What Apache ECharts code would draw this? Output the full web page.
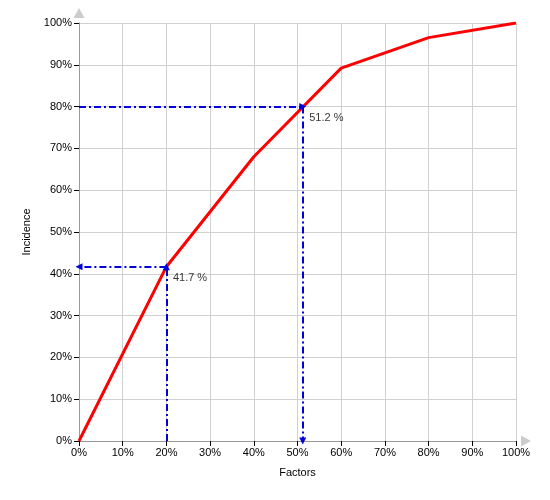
<!DOCTYPE html>
<html>
<head>
<meta charset="utf-8">
<script src="https://cdn.jsdelivr.net/npm/echarts@6/dist/echarts.min.js"></script>
<style>html,body{margin:0;padding:0;background:#fff}#c{width:550px;height:500px}</style>
</head>
<body>
<div id="c"></div>
<script>
// Curve: Factors (%) vs Incidence (%)
const factors = [0, 20, 40, 60, 80, 100];
const incidence = [0, 41.7, 68, 89.2, 96.5, 100];
// Annotated points [factor %, incidence %]
const markA = [20, 41.7];
const markB = [51.2, 80];
const xTickLabels = ['0%','10%','20%','30%','40%','50%','60%','70%','80%','90%','100%'];
const yTickLabels = ['0%','10%','20%','30%','40%','50%','60%','70%','80%','90%','100%'];

const chart = echarts.init(document.getElementById('c'), null, {renderer: 'canvas'});
const font = 'Liberation Sans, Arial, sans-serif';
const lineData = factors.map((f, i) => [f, incidence[i]]);
const dashStyle = {color: '#0000dd', width: 2, type: [7, 3, 2, 3]};

function baseAxis(labels) {
  return {
    type: 'value', min: 0, max: 100, interval: 10,
    axisLabel: {formatter: v => labels[Math.round(v / 10)], color: '#000', fontFamily: font, fontSize: 11},
    axisTick: {show: true, length: 5, lineStyle: {color: '#000', width: 1}},
    splitLine: {show: true, lineStyle: {color: '#d0d0d0', width: 1}},
    axisLine: {show: true, lineStyle: {color: '#999', width: 1}},
    z: 2
  };
}
function arrowAxis(extra) {
  return Object.assign({
    type: 'value', min: 0, max: 100, interval: 10,
    axisLabel: {show: false}, axisTick: {show: false}, splitLine: {show: false},
    axisLine: {show: true, symbol: ['none', 'triangle'], symbolSize: [11, 10], symbolOffset: [0, 10],
      lineStyle: {color: '#cccccc', width: 1}},
    z: 1
  }, extra);
}

const xMain = Object.assign(baseAxis(xTickLabels), {
  name: 'Factors', nameLocation: 'middle', nameGap: 26,
  nameTextStyle: {color: '#000', fontFamily: font, fontSize: 11},
  axisLabel: {formatter: v => xTickLabels[Math.round(v / 10)], color: '#000', fontFamily: font, fontSize: 11, margin: 6}
});
const yMain = Object.assign(baseAxis(yTickLabels), {
  name: 'Incidence', nameLocation: 'middle', nameGap: 46,
  nameTextStyle: {color: '#000', fontFamily: font, fontSize: 11},
  axisLabel: {formatter: v => yTickLabels[Math.round(v / 10)], color: '#000', fontFamily: font, fontSize: 11, margin: 7}
});

chart.setOption({
  animation: false,
  backgroundColor: '#fff',
  grid: {left: 79, right: 34, top: 23, bottom: 59, containLabel: false},
  xAxis: [xMain, arrowAxis({position: 'bottom'})],
  yAxis: [yMain, arrowAxis({position: 'left'})],
  series: [
    {
      type: 'line', data: lineData, showSymbol: false, symbol: 'none',
      lineStyle: {color: '#ff0000', width: 3}, z: 3,
      markLine: {
        silent: true, symbol: ['none', 'triangle'], symbolSize: [7, 7],
        lineStyle: dashStyle, label: {show: false}, z: 4,
        data: [
          [{coord: [markA[0], 0]}, {coord: [markA[0], markA[1]]}],
          [{coord: [markA[0], markA[1]]}, {coord: [0, markA[1]]}],
          [{coord: [0, markB[1]]}, {coord: [markB[0], markB[1]]}],
          [{coord: [markB[0], markB[1]]}, {coord: [markB[0], 0]}]
        ]
      }
    },
    {
      type: 'scatter', symbolSize: 1, itemStyle: {color: 'rgba(0,0,0,0)'}, z: 5,
      data: [
        {value: markA, labelText: markA[1].toFixed(1) + ' %'},
        {value: markB, labelText: markB[0].toFixed(1) + ' %'}
      ],
      label: {
        show: true, position: [7, 6], align: 'left', verticalAlign: 'top',
        formatter: p => p.data.labelText, color: '#000', fontFamily: font, fontSize: 11
      }
    }
  ]
});
</script>
</body>
</html>
